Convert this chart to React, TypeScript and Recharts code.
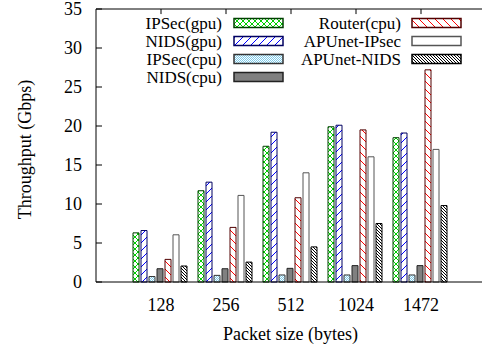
import { BarChart, Bar, XAxis, YAxis, Legend, ReferenceLine } from "recharts";

const packetSizes = ["128", "256", "512", "1024", "1472"];
const ipsecGpu = [6.3, 11.7, 17.4, 19.9, 18.5];
const nidsGpu = [6.6, 12.8, 19.2, 20.1, 19.1];
const ipsecCpu = [0.7, 0.85, 0.9, 0.9, 0.9];
const nidsCpu = [1.7, 1.7, 1.75, 2.1, 2.1];
const routerCpu = [2.9, 7.0, 10.8, 19.5, 27.2];
const apunetIpsec = [6.05, 11.1, 14.0, 16.05, 17.0];
const apunetNids = [2.05, 2.55, 4.5, 7.5, 9.8];
const yTicks = [0, 5, 10, 15, 20, 25, 30, 35];
const yMax = 35;

const series = [
  { key: "ipsecGpu", name: "IPSec(gpu)", values: ipsecGpu, fill: "url(#patGreen)", stroke: "#004000" },
  { key: "nidsGpu", name: "NIDS(gpu)", values: nidsGpu, fill: "url(#patBlue)", stroke: "#000060" },
  { key: "ipsecCpu", name: "IPSec(cpu)", values: ipsecCpu, fill: "url(#patSky)", stroke: "#333" },
  { key: "nidsCpu", name: "NIDS(cpu)", values: nidsCpu, fill: "#808080", stroke: "#222" },
  { key: "routerCpu", name: "Router(cpu)", values: routerCpu, fill: "url(#patRed)", stroke: "#500000" },
  { key: "apunetIpsec", name: "APUnet-IPsec", values: apunetIpsec, fill: "#fff", stroke: "#555" },
  { key: "apunetNids", name: "APUnet-NIDS", values: apunetNids, fill: "url(#patBlack)", stroke: "#000" },
];

const data = packetSizes.map((size, i) => {
  const row: Record<string, string | number> = { size };
  series.forEach((s) => (row[s.key] = s.values[i]));
  return row;
});

const FONT = "'Liberation Serif', 'Times New Roman', serif";

function YTick(props: any) {
  const { x, y, payload } = props;
  return (
    <g>
      <line x1={x + 14} x2={x + 20} y1={y} y2={y} stroke="#000" />
      <text x={x} y={y} textAnchor="end" dominantBaseline="central" fontSize={18} fontFamily={FONT} fill="#000">
        {payload.value}
      </text>
    </g>
  );
}

function YTitle(props: any) {
  const { viewBox } = props;
  const cx = viewBox.x + 25;
  const cy = viewBox.y + viewBox.height / 2 + 4;
  return (
    <text
      x={cx}
      y={cy}
      transform={`rotate(-90, ${cx}, ${cy})`}
      textAnchor="middle"
      dominantBaseline="central"
      fontSize={18}
      fontFamily={FONT}
      fill="#000"
    >
      Throughput (Gbps)
    </text>
  );
}

function LegendBox() {
  const rowY = [23, 41, 59, 77];
  const cols = [
    { textX: 222, boxX: 234 },
    { textX: 401, boxX: 412 },
  ];
  return (
    <svg width={482} height={100} style={{ overflow: "visible" }}>
      {series.map((s, i) => {
        const col = cols[i < 4 ? 0 : 1];
        const y = rowY[i < 4 ? i : i - 4];
        return (
          <g key={s.key}>
            <text x={col.textX} y={y} textAnchor="end" dominantBaseline="central" fontSize={17} fontFamily={FONT} fill="#000">
              {s.name}
            </text>
            <rect x={col.boxX} y={y - 4.5} width={49} height={9} fill={s.fill} stroke={s.stroke} strokeWidth={1.5} />
          </g>
        );
      })}
    </svg>
  );
}

export default function App() {
  return (
    <div style={{ position: "absolute", left: 0, top: 0, background: "#fff" }}>
      <BarChart
        width={482}
        height={351}
        data={data}
        margin={{ top: 9, right: -3, bottom: 0, left: 0 }}
        barCategoryGap={4.5}
        barGap={2}
      >
        <defs>
          <pattern id="patGreen" patternUnits="userSpaceOnUse" width={6} height={6}>
            <rect width={6} height={6} fill="#fff" />
            <path d="M0,0 L6,6 M6,0 L0,6" stroke="#00d000" strokeWidth={1} />
          </pattern>
          <pattern id="patBlue" patternUnits="userSpaceOnUse" width={8} height={8}>
            <rect width={8} height={8} fill="#fff" />
            <path d="M0,8 L8,0 M-2,2 L2,-2 M6,10 L10,6" stroke="#0000ff" strokeWidth={1} />
          </pattern>
          <pattern id="patSky" patternUnits="userSpaceOnUse" width={2} height={2}>
            <rect width={2} height={2} fill="#fff" />
            <rect width={1} height={1} fill="#7ecbea" />
            <rect x={1} y={1} width={1} height={1} fill="#7ecbea" />
          </pattern>
          <pattern id="patRed" patternUnits="userSpaceOnUse" width={8} height={8}>
            <rect width={8} height={8} fill="#fff" />
            <path d="M0,0 L8,8 M-2,6 L2,10 M6,-2 L10,2" stroke="#ff0000" strokeWidth={1} />
          </pattern>
          <pattern id="patBlack" patternUnits="userSpaceOnUse" width={3} height={3}>
            <rect width={3} height={3} fill="#fff" />
            <path d="M0,0 L3,3 M-1,2 L1,4 M2,-1 L4,1" stroke="#000" strokeWidth={1} />
          </pattern>
        </defs>
        <XAxis
          dataKey="size"
          height={69}
          padding={{ left: 32.5, right: 31.5 }}
          tickLine={false}
          tickSize={0}
          tickMargin={16}
          axisLine={{ stroke: "#000" }}
          tick={{ fontSize: 18, fontFamily: FONT, fill: "#000" }}
          label={{ value: "Packet size (bytes)", position: "insideBottom", offset: 11, fontSize: 18, fontFamily: FONT, fill: "#000" }}
        />
        <YAxis
          width={96}
          domain={[0, yMax]}
          ticks={yTicks}
          interval={0}
          tickLine={false}
          tickSize={0}
          tickMargin={14}
          axisLine={{ stroke: "#000" }}
          tick={<YTick />}
          label={{ content: <YTitle /> }}
        />
        <YAxis
          yAxisId="right"
          orientation="right"
          width={0}
          mirror
          domain={[0, yMax]}
          ticks={yTicks}
          interval={0}
          tickSize={6}
          tickLine={{ stroke: "#000" }}
          axisLine={{ stroke: "#000" }}
          tickFormatter={() => ""}
        />
        <ReferenceLine y={yMax} stroke="#000" strokeWidth={1} ifOverflow="visible" />
        {packetSizes.map((size) => (
          <ReferenceLine
            key={size}
            segment={[
              { x: size, y: yMax },
              { x: size, y: yMax - 0.65 },
            ]}
            stroke="#000"
            ifOverflow="visible"
          />
        ))}
        <Legend
          layout="horizontal"
          verticalAlign="middle"
          align="center"
          wrapperStyle={{ left: 0, top: 0, width: 482, height: 100 }}
          content={<LegendBox />}
        />
        {series.map((s) => (
          <Bar
            key={s.key}
            dataKey={s.key}
            name={s.name}
            fill={s.fill}
            stroke={s.stroke}
            strokeWidth={1}
            isAnimationActive={false}
          />
        ))}
      </BarChart>
    </div>
  );
}
